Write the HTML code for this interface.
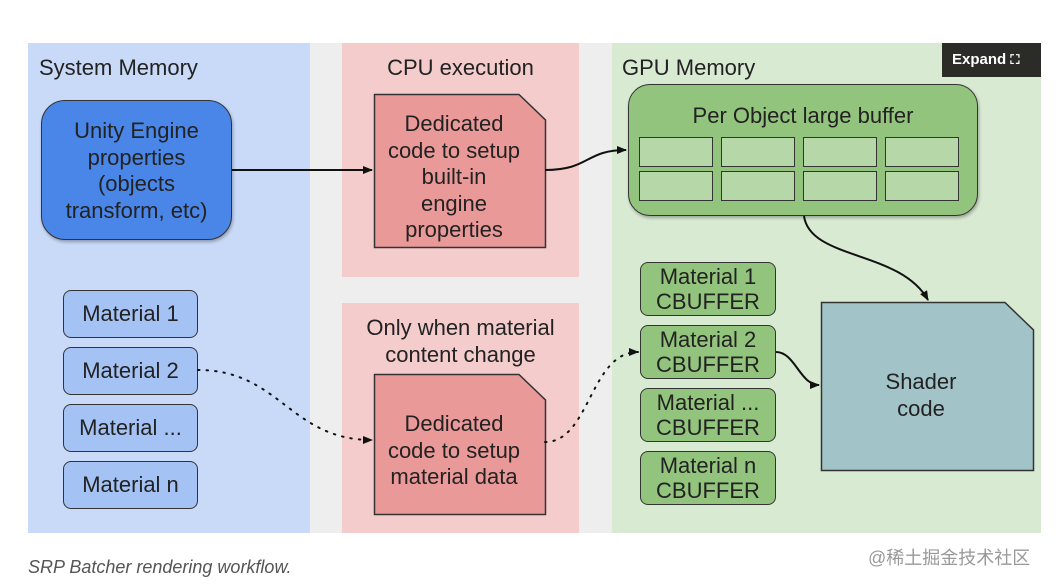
<!DOCTYPE html>
<html><head><style>
body{margin:0;width:1061px;height:586px;background:#fff;font-family:"Liberation Sans",Arial,sans-serif;position:relative;overflow:hidden}
.a{position:absolute}
.t{font-size:22px;color:#222;text-align:center;line-height:26.5px}
</style></head><body>
<div class="a" style="left:28px;top:43px;width:1013px;height:490px;background:#eeeeee"></div>
<div class="a" style="left:28px;top:43px;width:282px;height:490px;background:#c9daf8"></div>
<div class="a" style="left:342px;top:43px;width:237px;height:234px;background:#f4cccc"></div>
<div class="a" style="left:342px;top:303px;width:237px;height:230px;background:#f4cccc"></div>
<div class="a" style="left:612px;top:43px;width:429px;height:490px;background:#d9ead3"></div>
<div class="a t" style="left:39px;top:55px">System Memory</div>
<div class="a t" style="left:342px;top:55px;width:237px">CPU execution</div>
<div class="a t" style="left:622px;top:55px">GPU Memory</div>
<div class="a t" style="left:342px;top:315px;width:237px">Only when material<br>content change</div>
<div class="a" style="left:942px;top:43px;width:99px;height:34px;background:#2b2b28;color:#fff;font-weight:bold;font-size:15px;line-height:34px;text-indent:10px">Expand <span style="font-size:13px">⛶</span></div>
<div class="a t" style="left:41px;top:100px;width:191px;height:140px;background:#4a86e8;border:1.5px solid #333;border-radius:24px;box-sizing:border-box;padding-top:17px;box-shadow:1px 2px 3px rgba(0,0,0,.3)">Unity Engine<br>properties<br>(objects<br>transform, etc)</div>
<div class="a t" style="left:63px;top:290px;width:135px;height:48px;background:#a4c2f4;border:1.5px solid #333;border-radius:8px;box-sizing:border-box;line-height:46px">Material 1</div>
<div class="a t" style="left:63px;top:347px;width:135px;height:48px;background:#a4c2f4;border:1.5px solid #333;border-radius:8px;box-sizing:border-box;line-height:46px">Material 2</div>
<div class="a t" style="left:63px;top:404px;width:135px;height:48px;background:#a4c2f4;border:1.5px solid #333;border-radius:8px;box-sizing:border-box;line-height:46px">Material ...</div>
<div class="a t" style="left:63px;top:461px;width:135px;height:48px;background:#a4c2f4;border:1.5px solid #333;border-radius:8px;box-sizing:border-box;line-height:46px">Material n</div>
<div class="a" style="left:628px;top:84px;width:350px;height:132px;background:#93c47d;border:1.5px solid #333;border-radius:22px;box-sizing:border-box;box-shadow:1px 2px 3px rgba(0,0,0,.3)"></div>
<div class="a t" style="left:628px;top:103px;width:350px">Per Object large buffer</div>
<div class="a" style="left:639px;top:137px;width:74px;height:30px;background:#b6d7a8;border:1.5px solid #333;box-sizing:border-box"></div>
<div class="a" style="left:721px;top:137px;width:74px;height:30px;background:#b6d7a8;border:1.5px solid #333;box-sizing:border-box"></div>
<div class="a" style="left:803px;top:137px;width:74px;height:30px;background:#b6d7a8;border:1.5px solid #333;box-sizing:border-box"></div>
<div class="a" style="left:885px;top:137px;width:74px;height:30px;background:#b6d7a8;border:1.5px solid #333;box-sizing:border-box"></div>
<div class="a" style="left:639px;top:171px;width:74px;height:30px;background:#b6d7a8;border:1.5px solid #333;box-sizing:border-box"></div>
<div class="a" style="left:721px;top:171px;width:74px;height:30px;background:#b6d7a8;border:1.5px solid #333;box-sizing:border-box"></div>
<div class="a" style="left:803px;top:171px;width:74px;height:30px;background:#b6d7a8;border:1.5px solid #333;box-sizing:border-box"></div>
<div class="a" style="left:885px;top:171px;width:74px;height:30px;background:#b6d7a8;border:1.5px solid #333;box-sizing:border-box"></div>
<div class="a t" style="left:640px;top:262px;width:136px;height:54px;background:#93c47d;border:1.5px solid #333;border-radius:8px;box-sizing:border-box;line-height:25px;padding-top:1px">Material 1<br>CBUFFER</div>
<div class="a t" style="left:640px;top:325px;width:136px;height:54px;background:#93c47d;border:1.5px solid #333;border-radius:8px;box-sizing:border-box;line-height:25px;padding-top:1px">Material 2<br>CBUFFER</div>
<div class="a t" style="left:640px;top:388px;width:136px;height:54px;background:#93c47d;border:1.5px solid #333;border-radius:8px;box-sizing:border-box;line-height:25px;padding-top:1px">Material ...<br>CBUFFER</div>
<div class="a t" style="left:640px;top:451px;width:136px;height:54px;background:#93c47d;border:1.5px solid #333;border-radius:8px;box-sizing:border-box;line-height:25px;padding-top:1px">Material n<br>CBUFFER</div>
<svg class="a" style="left:0;top:0" width="1061" height="586">
<defs><marker id="m" markerWidth="10" markerHeight="8" refX="9" refY="4" orient="auto" markerUnits="userSpaceOnUse"><path d="M0,0L10,4L0,8z" fill="#111"/></marker></defs>
<path d="M374.5,94.5H519L545.5,120V247.5H374.5Z" fill="#ea9999" stroke="#333" stroke-width="1.5"/>
<path d="M374.5,374.5H519L545.5,400V514.5H374.5Z" fill="#ea9999" stroke="#333" stroke-width="1.5"/>
<path d="M821.5,302.5H1005L1033.5,330V470.5H821.5Z" fill="#a2c4c9" stroke="#333" stroke-width="1.5"/>
<path d="M232,170H372" stroke="#111" stroke-width="2" fill="none" marker-end="url(#m)"/>
<path d="M545,170C590,170 585,150 626,150" stroke="#111" stroke-width="2" fill="none" marker-end="url(#m)"/>
<path d="M804,216C810,260 900,250 928,300" stroke="#111" stroke-width="2" fill="none" marker-end="url(#m)"/>
<path d="M776,352C795,352 800,385 819,385" stroke="#111" stroke-width="2" fill="none" marker-end="url(#m)"/>
<path d="M198,370C280,370 290,440 372,440" stroke="#111" stroke-width="2" stroke-dasharray="1.5 7" stroke-linecap="round" fill="none" marker-end="url(#m)"/>
<path d="M545,442C590,442 590,352 638,352" stroke="#111" stroke-width="2" stroke-dasharray="1.5 7" stroke-linecap="round" fill="none" marker-end="url(#m)"/>
</svg>
<div class="a t" style="left:374px;top:111px;width:160px">Dedicated<br>code to setup<br>built-in<br>engine<br>properties</div>
<div class="a t" style="left:374px;top:411px;width:160px">Dedicated<br>code to setup<br>material data</div>
<div class="a t" style="left:821px;top:369px;width:200px">Shader<br>code</div>
<div class="a" style="left:28px;top:557px;font-size:18px;font-style:italic;color:#555">SRP Batcher rendering workflow.</div>
<div class="a" style="left:868px;top:544px;font-size:18px;color:#999;font-family:'Liberation Sans','Noto Sans CJK SC',sans-serif">@稀土掘金技术社区</div>
</body></html>
